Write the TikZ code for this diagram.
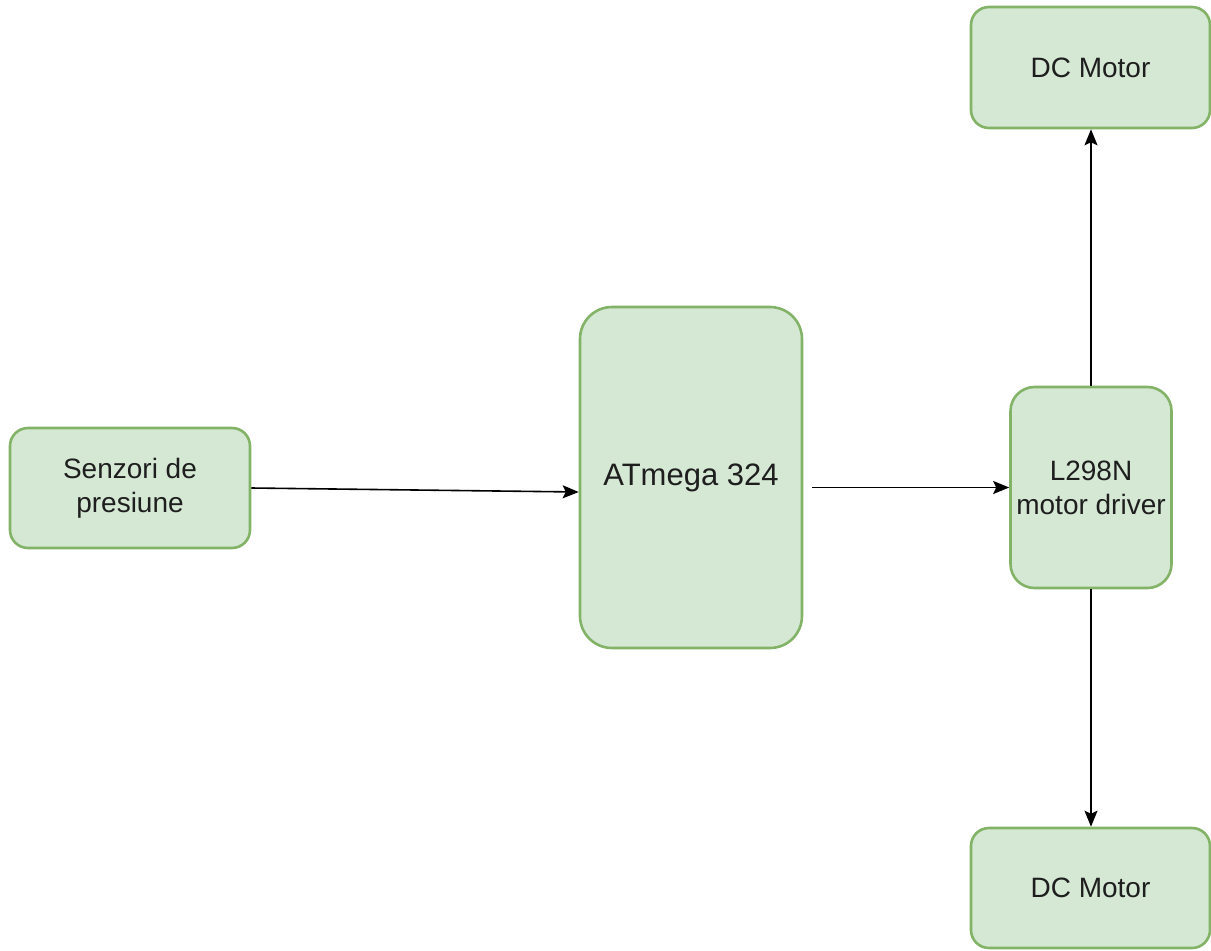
\documentclass[tikz,border=0pt]{standalone}
\usepackage{fontspec}
\setmainfont{Liberation Sans}
\usetikzlibrary{arrows.meta,calc}
\definecolor{boxfill}{HTML}{D5E8D4}
\definecolor{boxline}{HTML}{82B366}
\definecolor{txt}{HTML}{1E1E1E}
\tikzset{
  blk/.style={draw=boxline, fill=boxfill, line width=2.6pt, align=center, text=txt,
    font=\fontsize{28}{34}\selectfont, inner sep=0pt},
  conn/.style={line width=1.6pt, -{Stealth[length=16pt,width=13pt,inset=3pt]}}
}
\begin{document}
\begin{tikzpicture}[x=1pt,y=-1pt]
\useasboundingbox (0,0) rectangle (1211,951);
\node[blk, minimum width=240pt, minimum height=120pt, rounded corners=18pt] (sen) at (130,488) {Senzori de\\presiune};
\node[blk, minimum width=222pt, minimum height=341pt, rounded corners=32pt, font=\fontsize{31}{36}\selectfont] (atm) at (691,477.5) {ATmega 324};
\node[blk, minimum width=161pt, minimum height=201pt, rounded corners=24pt] (drv) at (1091,487.5) {L298N\\motor driver};
\node[blk, minimum width=239pt, minimum height=121pt, rounded corners=18pt] (m1) at (1090.5,67.5) {DC Motor};
\node[blk, minimum width=239pt, minimum height=120pt, rounded corners=18pt] (m2) at (1090.5,888) {DC Motor};
\draw[conn] (sen.east) -- ([yshift=-4pt]atm.west |- sen.east);
\draw[conn] ([xshift=9pt]atm.east |- drv.west) -- (drv.west);
\draw[conn] (drv.north) -- (drv.north |- m1.south);
\draw[conn] (drv.south) -- (drv.south |- m2.north);
\end{tikzpicture}
\end{document}
